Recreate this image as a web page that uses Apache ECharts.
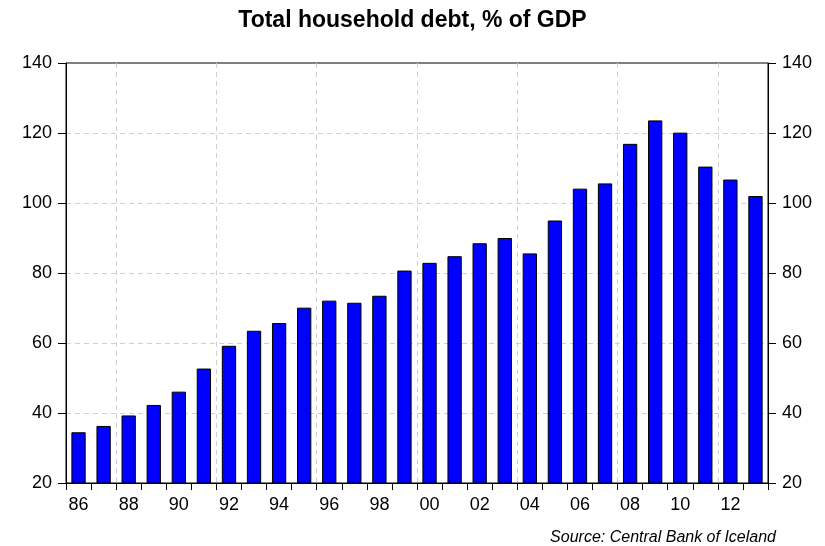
<!DOCTYPE html>
<html>
<head>
<meta charset="utf-8">
<script src="https://cdn.jsdelivr.net/npm/echarts@6/dist/echarts.min.js"></script>
<style>
html,body{margin:0;padding:0;background:#fff;}
#chart{width:825px;height:546px;}
</style>
</head>
<body>
<div id="chart"></div>
<script>
var years = ['86','87','88','89','90','91','92','93','94','95','96','97','98','99','00','01','02','03','04','05','06','07','08','09','10','11','12','13'];
var debtPctGDP = [34.5,36.3,39.3,42.3,46.1,52.7,59.2,63.5,65.7,70.1,72.1,71.5,73.5,80.7,82.9,84.8,88.5,90.0,85.6,95.0,104.1,105.6,116.9,123.6,120.1,110.4,106.7,102.0];
var yTicks = {min:20, max:140, interval:20};

var font = 'Liberation Sans, Arial, sans-serif';
var chart = echarts.init(document.getElementById('chart'));

function yAxis(pos){
  return {
    type:'value', position:pos, min:yTicks.min, max:yTicks.max, interval:yTicks.interval,
    axisLine:{show:true, lineStyle:{color:'#000', width:1}},
    axisTick:{show:true, inside:false, length:8, lineStyle:{color:'#000'}},
    axisLabel:{color:'#000', fontFamily:font, fontSize:18, margin:14},
    splitLine:{show: pos==='left', showMinLine:false, showMaxLine:false, lineStyle:{color:'#d0d0d0', type:[5,4], width:1}}
  };
}

chart.setOption({
  animation:false,
  title:{
    text:'Total household debt, % of GDP', left:'center', top:4,
    textStyle:{fontFamily:font, fontSize:23, fontWeight:'bold', color:'#000'}
  },
  grid:{left:66, right:57, top:63, bottom:63, show:true, borderColor:'#000', borderWidth:1, backgroundColor:'transparent'},
  xAxis:{
    type:'category', data:years, boundaryGap:true,
    axisLine:{show:true, lineStyle:{color:'#000', width:1}},
    axisTick:{show:true, interval:0, length:7, lineStyle:{color:'#000'}},
    axisLabel:{interval:1, color:'#000', fontFamily:font, fontSize:18, margin:13},
    splitLine:{show:true, interval:function(i){return i % 4 === 2;}, lineStyle:{color:'#d0d0d0', type:[5,4], width:1}}
  },
  yAxis:[yAxis('left'), yAxis('right')],
  series:[{
    type:'bar', data:debtPctGDP, yAxisIndex:0, barWidth:'57%',
    itemStyle:{color:'#0000ff', borderColor:'#000', borderWidth:1}
  }],
  graphic:[{
    type:'text', right:49, top:530,
    style:{text:'Source: Central Bank of Iceland', fontFamily:font, fontSize:16, fontStyle:'italic', fill:'#000'}
  }]
});
</script>
</body>
</html>
